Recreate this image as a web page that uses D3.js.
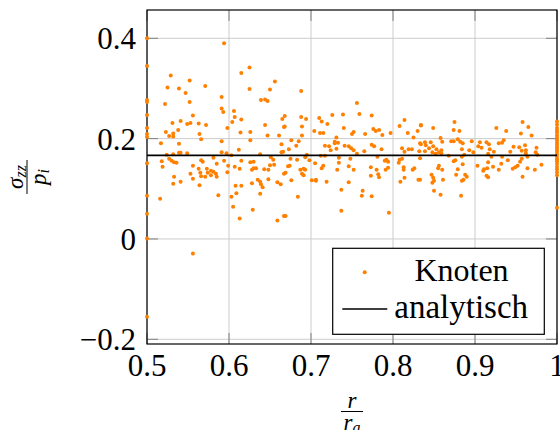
<!DOCTYPE html>
<html>
<head>
<meta charset="utf-8">
<script src="https://cdn.jsdelivr.net/npm/d3@7"></script>
<style>
	body{margin:0;background:#fff}
</style>
</head>
<body>
<svg id="chart" width="560" height="430"></svg>
<script>
// axis ticks
let xTicks = [0.5,0.6,0.7,0.8,0.9,1]
let xTickLabels = ['0.5','0.6','0.7','0.8','0.9','1']
let yTicks = [-0.2,0,0.2,0.4]
let yTickLabels = ['\u22120.2','0','0.2','0.4']

// analytical solution sigma_zz/p_i
let analytischY = 0.1667

// nodes on the inner edge r/ra = 0.5
let knotenInnen = [0.400,0.345,0.277,0.273,0.247,0.221,0.209,0.203,0.151,0.086,0.050,0.001,-0.155]
// nodes on the outer edge r/ra = 1
let knotenAussen = [0.234,0.228,0.221,0.216,0.212,0.206,0.201,0.197,0.192,0.188,0.183,0.178,0.174,0.169,0.164,0.159,0.155,0.150,0.144,0.139,0.133,0.127,0.062]
// nodes in between, [r/ra, sigma_zz/p_i]
let knoten = [
[0.594,0.390],[0.529,0.326],[0.615,0.331],[0.625,0.342],[0.552,0.316],[0.656,0.314],[0.525,0.302],[0.539,0.300],[0.571,0.305],[0.625,0.299],[0.650,0.298],[0.547,0.291],[0.591,0.283],[0.522,0.269],[0.552,0.273],[0.639,0.277],[0.644,0.278],[0.647,0.275],[0.591,0.260],[0.593,0.253],[0.606,0.255],[0.607,0.243],[0.556,0.246],[0.615,0.238],[0.665,0.239],[0.531,0.231],[0.541,0.235],[0.549,0.229],[0.553,0.231],[0.563,0.230],[0.572,0.227],[0.604,0.233],[0.644,0.227],[0.538,0.217],[0.598,0.221],[0.667,0.223],[0.523,0.213],[0.532,0.210],[0.527,0.205],[0.532,0.204],[0.564,0.209],[0.566,0.199],[0.614,0.212],[0.626,0.213],[0.647,0.206],[0.661,0.206],[0.591,0.195],[0.626,0.197],[0.517,0.191],[0.539,0.190],
[0.664,0.189],[0.612,0.178],[0.524,0.168],[0.532,0.169],[0.539,0.172],[0.541,0.172],[0.549,0.171],[0.591,0.173],[0.597,0.171],[0.603,0.167],[0.638,0.169],[0.664,0.173],[0.518,0.155],[0.519,0.144],[0.527,0.160],[0.530,0.156],[0.533,0.153],[0.536,0.152],[0.556,0.146],[0.566,0.157],[0.568,0.154],[0.581,0.162],[0.585,0.150],[0.594,0.156],[0.599,0.146],[0.598,0.133],[0.563,0.140],[0.573,0.140],[0.574,0.132],[0.578,0.136],[0.581,0.134],[0.584,0.130],[0.565,0.132],[0.566,0.125],[0.571,0.124],[0.578,0.127],[0.585,0.124],[0.553,0.130],[0.556,0.120],[0.564,0.107],[0.533,0.124],[0.532,0.110],[0.541,0.114],[0.607,0.144],[0.613,0.140],[0.615,0.156],[0.626,0.153],[0.630,0.154],[0.628,0.138],[0.630,0.141],[0.633,0.141],[0.643,0.139],[0.648,0.138],[0.650,0.147],[0.655,0.148],[0.654,0.158],[0.651,0.163],[0.635,0.118],[0.638,0.114],[0.639,0.109],[0.641,0.103],[0.628,0.111],[0.648,0.119],[0.659,0.113],[0.663,0.109],[0.667,0.130],[0.608,0.106],[0.615,0.106],[0.609,0.091],[0.603,0.084],[0.605,0.064],[0.587,0.087],[0.638,0.090],[0.516,0.080],[0.629,0.058],[0.613,0.041],[0.659,0.037],[0.667,0.046],[0.556,-0.029],
[0.688,0.295],[0.756,0.271],[0.759,0.249],[0.774,0.246],[0.739,0.248],[0.726,0.247],[0.668,0.245],[0.688,0.243],[0.694,0.239],[0.710,0.241],[0.713,0.234],[0.720,0.229],[0.668,0.224],[0.689,0.224],[0.704,0.215],[0.711,0.211],[0.715,0.211],[0.740,0.221],[0.750,0.209],[0.752,0.213],[0.766,0.209],[0.776,0.219],[0.779,0.215],[0.783,0.217],[0.787,0.207],[0.797,0.211],[0.808,0.225],[0.814,0.237],[0.818,0.211],[0.825,0.202],[0.830,0.215],[0.834,0.226],[0.689,0.206],[0.676,0.197],[0.685,0.195],[0.682,0.186],[0.673,0.179],[0.666,0.174],[0.695,0.168],[0.693,0.163],[0.698,0.157],[0.705,0.151],[0.683,0.158],[0.675,0.160],[0.731,0.202],[0.729,0.194],[0.729,0.191],[0.733,0.192],[0.717,0.186],[0.722,0.185],[0.724,0.177],[0.731,0.180],[0.741,0.186],[0.746,0.185],[0.749,0.181],[0.752,0.177],[0.756,0.170],[0.765,0.175],[0.774,0.188],[0.777,0.185],[0.786,0.179],[0.792,0.158],[0.790,0.156],[0.794,0.154],[0.781,0.164],[0.712,0.166],[0.717,0.166],[0.734,0.162],[0.734,0.152],[0.748,0.160],[0.811,0.181],[0.814,0.174],[0.819,0.179],[0.823,0.179],[0.808,0.158],[0.807,0.152],[0.811,0.160],[0.832,0.175],[0.833,0.191],[0.672,0.145],[0.674,0.146],[0.691,0.140],[0.687,0.138],[0.693,0.138],[0.669,0.132],[0.689,0.130],[0.691,0.127],[0.715,0.146],[0.713,0.141],[0.732,0.138],[0.746,0.145],[0.752,0.138],[0.773,0.143],[0.773,0.126],[0.780,0.138],[0.782,0.129],[0.783,0.123],[0.791,0.138],[0.794,0.142],[0.813,0.143],[0.813,0.138],[0.814,0.122],[0.824,0.138],[0.826,0.141],[0.831,0.118],[0.676,0.117],[0.701,0.117],[0.706,0.118],[0.706,0.116],[0.719,0.114],[0.746,0.113],[0.809,0.114],[0.737,0.098],[0.763,0.096],[0.762,0.086],[0.774,0.085],[0.684,0.084],[0.669,0.046],[0.737,0.056],[0.795,0.052],
[0.875,0.233],[0.849,0.221],[0.874,0.217],[0.881,0.215],[0.834,0.227],[0.958,0.233],[0.938,0.215],[0.956,0.210],[0.969,0.206],[0.926,0.221],[0.965,0.223],[0.839,0.193],[0.846,0.193],[0.858,0.201],[0.860,0.194],[0.871,0.195],[0.874,0.195],[0.879,0.199],[0.882,0.194],[0.885,0.191],[0.896,0.195],[0.834,0.189],[0.840,0.187],[0.849,0.185],[0.844,0.181],[0.839,0.175],[0.853,0.179],[0.859,0.177],[0.848,0.173],[0.852,0.170],[0.856,0.173],[0.859,0.171],[0.868,0.166],[0.876,0.157],[0.884,0.164],[0.887,0.168],[0.884,0.179],[0.893,0.177],[0.898,0.173],[0.904,0.185],[0.908,0.182],[0.906,0.193],[0.914,0.193],[0.917,0.189],[0.918,0.179],[0.916,0.170],[0.920,0.164],[0.929,0.191],[0.933,0.192],[0.935,0.197],[0.923,0.174],[0.933,0.164],[0.943,0.174],[0.947,0.184],[0.954,0.183],[0.957,0.176],[0.961,0.187],[0.962,0.177],[0.962,0.171],[0.964,0.164],[0.975,0.182],[0.974,0.173],[0.976,0.168],[0.981,0.148],[0.973,0.138],[0.957,0.160],[0.955,0.154],[0.952,0.146],[0.949,0.143],[0.946,0.140],[0.964,0.141],[0.958,0.124],[0.940,0.157],[0.932,0.150],[0.929,0.138],[0.922,0.144],[0.916,0.153],[0.915,0.141],[0.916,0.123],[0.914,0.126],[0.911,0.139],[0.910,0.136],[0.903,0.146],[0.885,0.149],[0.888,0.128],[0.890,0.124],[0.884,0.116],[0.886,0.118],[0.879,0.139],[0.877,0.128],[0.874,0.155],[0.856,0.146],[0.855,0.141],[0.860,0.138],[0.861,0.118],[0.847,0.128],[0.849,0.122],[0.850,0.116],[0.848,0.112],[0.850,0.096],[0.858,0.088],[0.883,0.086],[0.833,0.161],[0.833,0.118]
]

let orange = '#ff8000'

function addText(parent,size,italic){
	let t = parent.append('text')
		.style('font-family','Liberation Serif','important')
		.style('font-size',size+'px')
		.style('fill','#000')
	if(italic){t.style('font-style','italic')}
	return t
}

function drawChart(){
	let svg = d3.select('#chart')
	let left = 147, right = 557, top = 10, bottom = 344

	let x = d3.scaleLinear().domain([0.5,1]).range([left,right])
	let y = d3.scaleLinear().domain([-0.2094,0.4564]).range([bottom,top])

	// grid
	let grid = svg.append('g')
	xTicks.forEach(function(t){
		grid.append('line').attr('x1',x(t)).attr('x2',x(t)).attr('y1',top).attr('y2',bottom)
			.attr('stroke','#cccccc').attr('stroke-width',1)
	})
	yTicks.forEach(function(t){
		grid.append('line').attr('x1',left).attr('x2',right).attr('y1',y(t)).attr('y2',y(t))
			.attr('stroke','#cccccc').attr('stroke-width',1)
	})

	// tick marks inside, all four sides
	let tl = 11
	xTicks.forEach(function(t){
		grid.append('line').attr('x1',x(t)).attr('x2',x(t)).attr('y1',bottom).attr('y2',bottom-tl).attr('stroke','#808080')
		grid.append('line').attr('x1',x(t)).attr('x2',x(t)).attr('y1',top).attr('y2',top+tl).attr('stroke','#808080')
	})
	yTicks.forEach(function(t){
		grid.append('line').attr('x1',left).attr('x2',left+tl).attr('y1',y(t)).attr('y2',y(t)).attr('stroke','#808080')
		grid.append('line').attr('x1',right).attr('x2',right-tl).attr('y1',y(t)).attr('y2',y(t)).attr('stroke','#808080')
	})

	// frame
	svg.append('rect').attr('x',left).attr('y',top).attr('width',right-left).attr('height',bottom-top)
		.attr('fill','none').attr('stroke','#000').attr('stroke-width',1.2)

	// scatter
	let pts = knoten.concat(knotenInnen.map(function(v){return [0.5,v]}))
		.concat(knotenAussen.map(function(v){return [1,v]}))
	svg.append('g').selectAll('circle').data(pts).enter().append('circle')
		.attr('cx',function(d){return x(d[0])})
		.attr('cy',function(d){return y(d[1])})
		.attr('r',2)
		.attr('fill',orange)

	// analytical line
	svg.append('line').attr('x1',x(0.5)).attr('x2',x(1)).attr('y1',y(analytischY)).attr('y2',y(analytischY))
		.attr('stroke','#000').attr('stroke-width',1.6)

	// tick labels
	xTicks.forEach(function(t,i){
		addText(svg,31).attr('x',x(t)).attr('y',376).attr('text-anchor','middle').text(xTickLabels[i])
	})
	yTicks.forEach(function(t,i){
		addText(svg,31).attr('x',136).attr('y',y(t)+11).attr('text-anchor','end').text(yTickLabels[i])
	})

	// x label r/ra
	let xl = svg.append('g').attr('transform','translate(352,0)')
	addText(xl,23,true).attr('x',0).attr('y',408).attr('text-anchor','middle').text('r')
	xl.append('line').attr('x1',-11).attr('x2',11).attr('y1',411.5).attr('y2',411.5).attr('stroke','#000').attr('stroke-width',1)
	let den = addText(xl,23,true).attr('x',0).attr('y',429.5).attr('text-anchor','middle')
	den.append('tspan').text('r')
	den.append('tspan').style('font-size','16px').attr('dy',3).text('a')

	// y label sigma_zz/p_i
	let yl = svg.append('g').attr('transform','translate(27,177) rotate(-90)')
	let num = addText(yl,23,true).attr('x',0).attr('y',-4.5).attr('text-anchor','middle')
	num.append('tspan').text('\u03c3')
	num.append('tspan').style('font-size','16px').attr('dy',3).text('zz')
	yl.append('line').attr('x1',-17).attr('x2',17).attr('y1',0).attr('y2',0).attr('stroke','#000').attr('stroke-width',1)
	let den2 = addText(yl,23,true).attr('x',0).attr('y',19).attr('text-anchor','middle')
	den2.append('tspan').text('p')
	den2.append('tspan').style('font-size','16px').attr('dy',3).text('i')

	// legend
	let lg = svg.append('g')
	lg.append('rect').attr('x',332.7).attr('y',248.3).attr('width',211.6).attr('height',86)
		.attr('fill','#fff').attr('stroke','#000').attr('stroke-width',1.2)
	lg.append('circle').attr('cx',364.7).attr('cy',272.3).attr('r',2).attr('fill',orange)
	addText(lg,32).attr('x',461.5).attr('y',281).attr('text-anchor','middle').text('Knoten')
	lg.append('line').attr('x1',342.3).attr('x2',387.3).attr('y1',309).attr('y2',309).attr('stroke','#000').attr('stroke-width',1.6)
	addText(lg,33).attr('x',394.3).attr('y',318).text('analytisch')
}

drawChart()
</script>
</body>
</html>
